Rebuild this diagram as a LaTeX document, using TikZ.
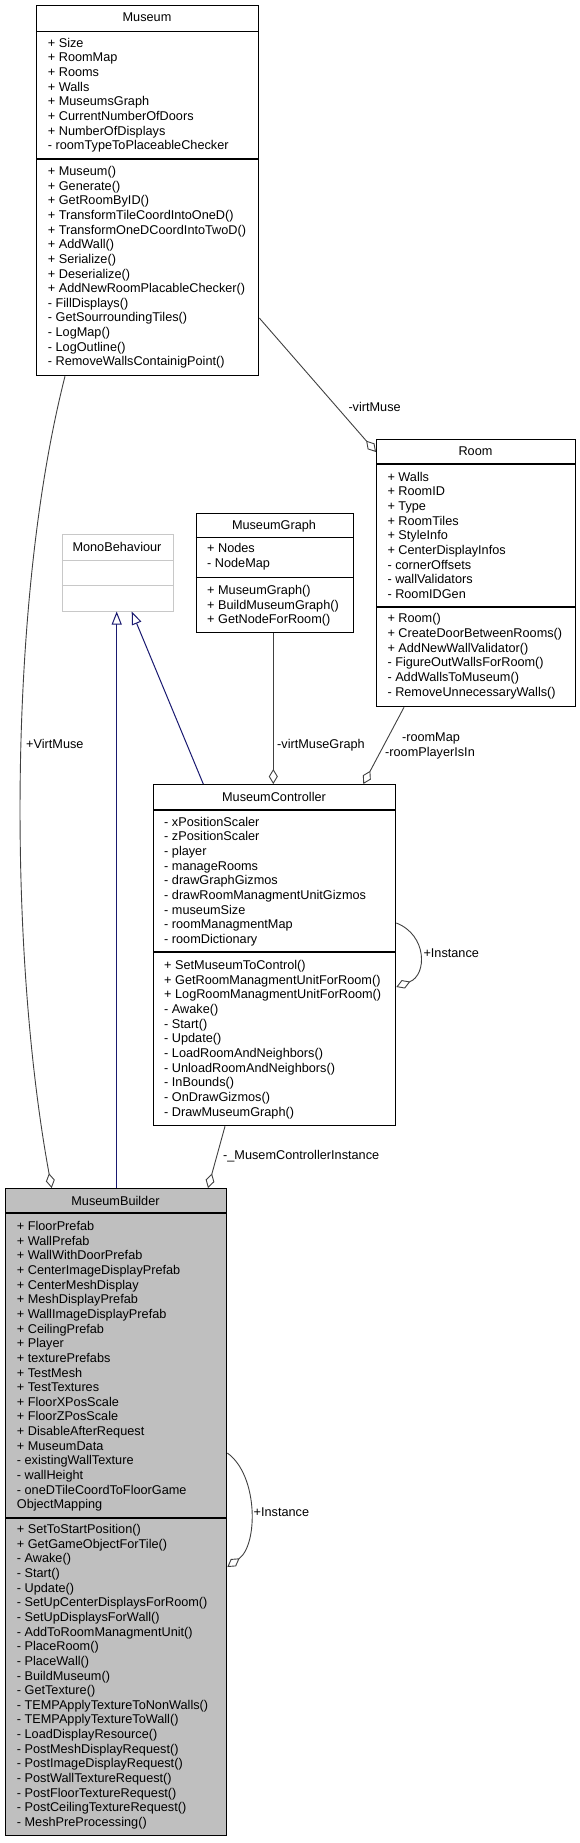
\documentclass[tikz,border=0pt]{standalone}
\usepackage{fontspec}
\setmainfont{Liberation Sans}
\usetikzlibrary{arrows.meta,calc}
\definecolor{edgegray}{HTML}{404040}
\definecolor{navyc}{HTML}{191970}
\definecolor{monogray}{HTML}{C8C8C8}
\definecolor{buildfill}{HTML}{BFBFBF}
\newcommand{\umlfont}{\fontsize{12.7}{14.65}\selectfont}
\newcommand{\textlines}[4]{%
  \foreach \t [count=\i] in {#3} {\node[txt] (#4\i) at (#1, {#2+(\i-1)*14.65+4.5}) {\t};}}
\tikzset{
  classbox/.style={draw=black, line width=1.3pt, inner sep=0, anchor=north west},
  monobox/.style={draw=monogray, line width=1pt, inner sep=0, anchor=north west},
  sepline/.style={draw=black, line width=1.3pt},
  txt/.style={anchor=base west, inner sep=0, font=\umlfont},
  ttl/.style={anchor=base, inner sep=0, font=\umlfont},
  lbl/.style={anchor=base west, inner sep=0, font=\umlfont},
  agg/.style={draw=edgegray, line width=0.9pt, -{Diamond[open, length=15pt, width=9pt, fill=white, line width=0.9pt]}},
  inh/.style={draw=navyc, line width=1pt, -{Triangle[open, length=13pt, width=10pt, fill=white, line width=1pt]}},
}
\begin{document}
\begin{tikzpicture}[x=1pt, y=-1pt]
\useasboundingbox (0,0) rectangle (580,1843);

% ---------- Museum
\node[classbox, minimum width=222pt, minimum height=370pt] (museum) at (36,5) {};
\draw[sepline] ($(museum.north west)+(0,26.5)$) -- ($(museum.north east)+(0,26.5)$);
\draw[sepline] ($(museum.north west)+(0,154)$) -- ($(museum.north east)+(0,154)$);
\node[ttl] (museumT) at (147,22) {Museum};
\textlines{47.7}{42.7}{+ Size,+ RoomMap,+ Rooms,+ Walls,+ MuseumsGraph,+ CurrentNumberOfDoors,+ NumberOfDisplays,- roomTypeToPlaceableChecker}{mA}
\textlines{47.7}{171}{+ Museum(),+ Generate(),+ GetRoomByID(),+ TransformTileCoordIntoOneD(),+ TransformOneDCoordIntoTwoD(),+ AddWall(),+ Serialize(),+ Deserialize(),+ AddNewRoomPlacableChecker(),- FillDisplays(),- GetSourroundingTiles(),- LogMap(),- LogOutline(),- RemoveWallsContainigPoint()}{mM}

% ---------- Room
\node[classbox, minimum width=199pt, minimum height=267pt] (room) at (376,439) {};
\draw[sepline] ($(room.north west)+(0,25)$) -- ($(room.north east)+(0,25)$);
\draw[sepline] ($(room.north west)+(0,168)$) -- ($(room.north east)+(0,168)$);
\node[ttl] (roomT) at (475.5,455.5) {Room};
\textlines{387.3}{476.7}{+ Walls,+ RoomID,+ Type,+ RoomTiles,+ StyleInfo,+ CenterDisplayInfos,- cornerOffsets,- wallValidators,- RoomIDGen}{rA}
\textlines{387.3}{618.3}{+ Room(),+ CreateDoorBetweenRooms(),+ AddNewWallValidator(),- FigureOutWallsForRoom(),- AddWallsToMuseum(),- RemoveUnnecessaryWalls()}{rM}

% ---------- MuseumGraph
\node[classbox, minimum width=157pt, minimum height=119pt] (graph) at (195.5,513) {};
\draw[sepline] ($(graph.north west)+(0,24.7)$) -- ($(graph.north east)+(0,24.7)$);
\draw[sepline] ($(graph.north west)+(0,64.7)$) -- ($(graph.north east)+(0,64.7)$);
\node[ttl] (graphT) at (274,529.5) {MuseumGraph};
\textlines{207}{548.3}{+ Nodes,- NodeMap}{gA}
\textlines{207}{590}{+ MuseumGraph(),+ BuildMuseumGraph(),+ GetNodeForRoom()}{gM}

% ---------- MonoBehaviour
\node[monobox, minimum width=111pt, minimum height=76.5pt] (mono) at (61.5,534) {};
\draw[draw=monogray, line width=1pt] ($(mono.north west)+(0,26)$) -- ($(mono.north east)+(0,26)$);
\draw[draw=monogray, line width=1pt] ($(mono.north west)+(0,51)$) -- ($(mono.north east)+(0,51)$);
\node[ttl] (monoT) at (117,551.5) {MonoBehaviour};

% ---------- MuseumController
\node[classbox, minimum width=242pt, minimum height=341pt] (controller) at (153,784) {};
\draw[sepline] ($(controller.north west)+(0,26)$) -- ($(controller.north east)+(0,26)$);
\draw[sepline] ($(controller.north west)+(0,168)$) -- ($(controller.north east)+(0,168)$);
\node[ttl] (controllerT) at (274,801.5) {MuseumController};
\textlines{164}{821.7}{- xPositionScaler,- zPositionScaler,- player,- manageRooms,- drawGraphGizmos,- drawRoomManagmentUnitGizmos,- museumSize,- roomManagmentMap,- roomDictionary}{cA}
\textlines{164}{965}{+ SetMuseumToControl(),+ GetRoomManagmentUnitForRoom(),+ LogRoomManagmentUnitForRoom(),- Awake(),- Start(),- Update(),- LoadRoomAndNeighbors(),- UnloadRoomAndNeighbors(),- InBounds(),- OnDrawGizmos(),- DrawMuseumGraph()}{cM}

% ---------- MuseumBuilder
\node[classbox, fill=buildfill, minimum width=221pt, minimum height=647pt] (builder) at (5,1188) {};
\draw[sepline] ($(builder.north west)+(0,25)$) -- ($(builder.north east)+(0,25)$);
\draw[sepline] ($(builder.north west)+(0,330)$) -- ($(builder.north east)+(0,330)$);
\node[ttl] (builderT) at (115.5,1205.2) {MuseumBuilder};
\textlines{16.7}{1226}{+ FloorPrefab,+ WallPrefab,+ WallWithDoorPrefab,+ CenterImageDisplayPrefab,+ CenterMeshDisplay,+ MeshDisplayPrefab,+ WallImageDisplayPrefab,+ CeilingPrefab,+ Player,+ texturePrefabs,+ TestMesh,+ TestTextures,+ FloorXPosScale,+ FloorZPosScale,+ DisableAfterRequest,+ MuseumData,- existingWallTexture,- wallHeight,- oneDTileCoordToFloorGame,ObjectMapping}{bA}
\textlines{16.7}{1529}{+ SetToStartPosition(),+ GetGameObjectForTile(),- Awake(),- Start(),- Update(),- SetUpCenterDisplaysForRoom(),- SetUpDisplaysForWall(),- AddToRoomManagmentUnit(),- PlaceRoom(),- PlaceWall(),- BuildMuseum(),- GetTexture(),- TEMPApplyTextureToNonWalls(),- TEMPApplyTextureToWall(),- LoadDisplayResource(),- PostMeshDisplayRequest(),- PostImageDisplayRequest(),- PostWallTextureRequest(),- PostFloorTextureRequest(),- PostCeilingTextureRequest(),- MeshPreProcessing()}{bM}

% ---------- Inheritance
\draw[inh] ($(builder.north west)+(111.7,0)$) -- ($(mono.south west)+(55.2,0)$);
\draw[inh] ($(controller.north west)+(50.3,0)$) -- ($(mono.south west)+(70.2,0)$);

% ---------- Aggregations
\draw[agg] ($(museum.north east)+(0,313)$) -- ($(room.north west)+(0,13)$);
\node[lbl] (lVirtMuse) at (348.3,411.2) {-virtMuse};

\draw[agg] ($(museum.south west)+(29,0)$) .. controls (8,600) and (8,950) .. ($(builder.north west)+(46.7,0)$);
\node[lbl] (lVirtMuseB) at (26,748.5) {+VirtMuse};

\draw[agg] ($(graph.south west)+(77.8,0)$) -- ($(controller.north west)+(120.3,0)$);
\node[lbl] (lGraph) at (277,748.5) {-virtMuseGraph};

\draw[agg] ($(room.south west)+(28,0)$) -- ($(controller.north west)+(210.3,0)$);
\node[ttl] (lRoomMap) at (431,741.2) {-roomMap};
\node[ttl] (lRoomPl) at (430,756.2) {-roomPlayerIsIn};

\draw[agg] ($(controller.north east)+(0,139)$) .. controls ($(controller.north east)+(31,151)$) and ($(controller.north east)+(31,191)$) .. ($(controller.north east)+(0,203)$);
\node[lbl] (lInstC) at (423.3,957.8) {+Instance};

\draw[agg] ($(controller.south west)+(72,0)$) -- ($(builder.north west)+(203,0)$);
\node[lbl] (lCtrl) at (223,1159.5) {-\_MusemControllerInstance};

\draw[agg] ($(builder.north east)+(0,265)$) .. controls ($(builder.north east)+(31,287)$) and ($(builder.north east)+(31,357)$) .. ($(builder.north east)+(0,379)$);
\node[lbl] (lInstB) at (253.5,1516.5) {+Instance};
\end{tikzpicture}
\end{document}
